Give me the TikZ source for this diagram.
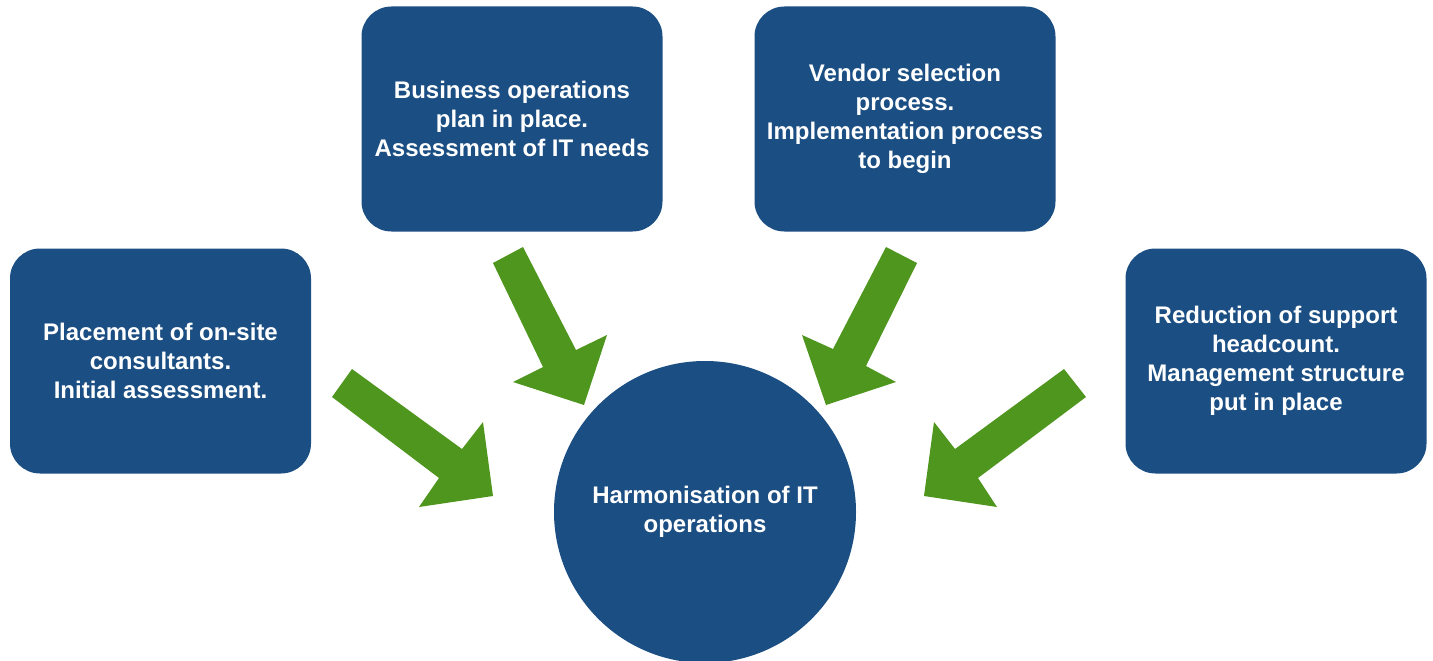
\documentclass[tikz,border=0pt]{standalone}
\usepackage{fontspec}
\setmainfont{Liberation Sans}
\definecolor{boxblue}{RGB}{27,78,130}
\definecolor{arrgreen}{RGB}{79,150,30}
\begin{document}
\begin{tikzpicture}[x=1pt,y=-1pt,
  box/.style={fill=boxblue, draw=none, rounded corners=30pt, minimum width=301pt, minimum height=225pt,
    text=white, align=center, font=\bfseries\fontsize{24}{29}\selectfont, inner sep=0pt},
  hub/.style={circle, fill=boxblue, draw=none, minimum size=302pt, text=white, align=center,
    font=\bfseries\fontsize{24}{29}\selectfont, inner sep=0pt},
  blockarrow/.style={fill=arrgreen, draw=none}]
\useasboundingbox (0,0) rectangle (1433,661);
\node[box] (b1) at (160.5,361) {Placement of on-site\\consultants.\\Initial assessment.};
\node[box] (b2) at (512,119) {Business operations\\plan in place.\\Assessment of IT needs};
\node[box] (b3) at (905,119) {Vendor selection\\process.\\Implementation process\\to begin};
\node[box] (b4) at (1276,361) {Reduction of support\\headcount.\\Management structure\\put in place};
\node[hub] (hub) at (705,512) {Harmonisation of IT\\operations};
% block arrows
\fill[blockarrow] (352,369) -- (462,449) -- (483,422) -- (493,496) -- (419,507) -- (439,478) -- (332,397) -- cycle;
\fill[blockarrow] (523,247) -- (576,350) -- (607,335) -- (584,405) -- (513,382) -- (543,367) -- (493,263) -- cycle;
\fill[blockarrow] (886,247) -- (833,349) -- (802,335) -- (826,405) -- (896,382) -- (866,366) -- (917,263) -- cycle;
\fill[blockarrow] (1064,369) -- (955,449) -- (934,422) -- (924,496) -- (997,507) -- (978,478) -- (1086,397) -- cycle;
\end{tikzpicture}
\end{document}
